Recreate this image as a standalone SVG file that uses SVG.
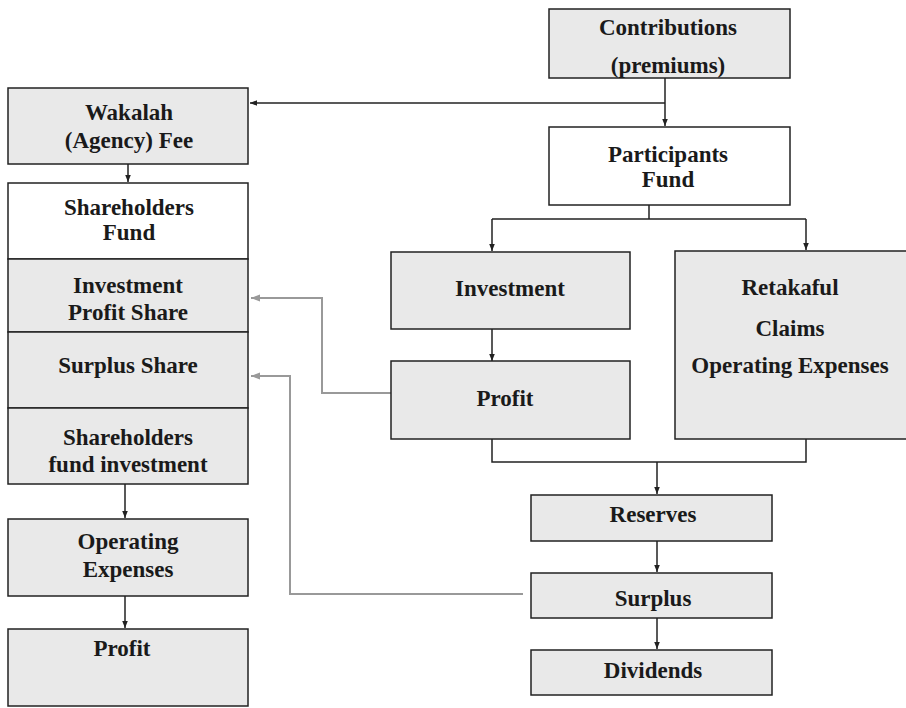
<svg xmlns="http://www.w3.org/2000/svg" width="906" height="708" viewBox="0 0 906 708">
<style>
.box{stroke:#222;stroke-width:1.5}
.g{fill:#e9e9e9}
.w{fill:#ffffff}
text{font-family:"Liberation Serif","Times New Roman",serif;font-weight:bold;font-size:23px;fill:#1a1a1a;text-anchor:middle}
.c{fill:none;stroke:#222;stroke-width:1.5}
.gc{fill:none;stroke:#999;stroke-width:2}
</style>
<defs>
<marker id="ah" viewBox="0 0 10 10" refX="10" refY="5" markerWidth="7" markerHeight="7" markerUnits="userSpaceOnUse" orient="auto"><path d="M0,1 L10,5 L0,9 z" fill="#222"/></marker>
<marker id="ag" viewBox="0 0 10 10" refX="10" refY="5" markerWidth="9" markerHeight="9" markerUnits="userSpaceOnUse" orient="auto"><path d="M0,1 L10,5 L0,9 z" fill="#999"/></marker>
</defs>
<rect width="906" height="708" fill="#fff"/>
<g id="connectors">
<path class="c" d="M665,78 V126" marker-end="url(#ah)"/>
<path class="c" d="M665,103 H250" marker-end="url(#ah)"/>
<path class="c" d="M128,164 V182" marker-end="url(#ah)"/>
<path class="c" d="M649,205 V219 M492,219 H806"/>
<path class="c" d="M492,219 V251" marker-end="url(#ah)"/>
<path class="c" d="M806,219 V250" marker-end="url(#ah)"/>
<path class="c" d="M492,329 V361" marker-end="url(#ah)"/>
<path class="c" d="M492,439 V462 H806 V439"/>
<path class="c" d="M657,462 V494" marker-end="url(#ah)"/>
<path class="c" d="M657,541 V572" marker-end="url(#ah)"/>
<path class="c" d="M657,618 V649" marker-end="url(#ah)"/>
<path class="c" d="M125,484 V518" marker-end="url(#ah)"/>
<path class="c" d="M125,596 V628" marker-end="url(#ah)"/>
<path class="gc" d="M391,393 H322 V298 H251" marker-end="url(#ag)"/>
<path class="gc" d="M523,594 H290 V376 H251" marker-end="url(#ag)"/>
</g>
<g id="contributions"><rect class="box g" x="549" y="9" width="241" height="69"/><text x="668" y="35">Contributions</text><text x="668" y="73">(premiums)</text></g>
<g id="participants"><rect class="box w" x="549" y="127" width="241" height="78"/><text x="668" y="162">Participants</text><text x="668" y="187">Fund</text></g>
<g id="wakalah"><rect class="box g" x="8" y="88" width="240" height="76"/><text x="129" y="120">Wakalah</text><text x="129" y="148">(Agency) Fee</text></g>
<g id="shfund"><rect class="box w" x="8" y="183" width="240" height="76"/><text x="129" y="215">Shareholders</text><text x="129" y="240">Fund</text></g>
<g id="invprofit"><rect class="box g" x="8" y="259" width="240" height="73"/><text x="128" y="293">Investment</text><text x="128" y="320">Profit Share</text></g>
<g id="surplusshare"><rect class="box g" x="8" y="332" width="240" height="76"/><text x="128" y="373">Surplus Share</text></g>
<g id="shfundinv"><rect class="box g" x="8" y="408" width="240" height="76"/><text x="128" y="445">Shareholders</text><text x="128" y="472">fund investment</text></g>
<g id="opexp"><rect class="box g" x="8" y="519" width="240" height="77"/><text x="128" y="549">Operating</text><text x="128" y="577">Expenses</text></g>
<g id="profitleft"><rect class="box g" x="8" y="629" width="240" height="77"/><text x="122" y="656">Profit</text></g>
<g id="investment"><rect class="box g" x="391" y="252" width="239" height="77"/><text x="510" y="296">Investment</text></g>
<g id="profitright"><rect class="box g" x="391" y="361" width="239" height="78"/><text x="505" y="406">Profit</text></g>
<g id="retakaful"><rect class="box g" x="675" y="251" width="240" height="188"/><text x="790" y="295">Retakaful</text><text x="790" y="336">Claims</text><text x="790" y="373">Operating Expenses</text></g>
<g id="reserves"><rect class="box g" x="531" y="495" width="241" height="46"/><text x="653" y="522">Reserves</text></g>
<g id="surplus"><rect class="box g" x="531" y="573" width="241" height="45"/><text x="653" y="606">Surplus</text></g>
<g id="dividends"><rect class="box g" x="531" y="650" width="241" height="45"/><text x="653" y="678">Dividends</text></g>
</svg>
